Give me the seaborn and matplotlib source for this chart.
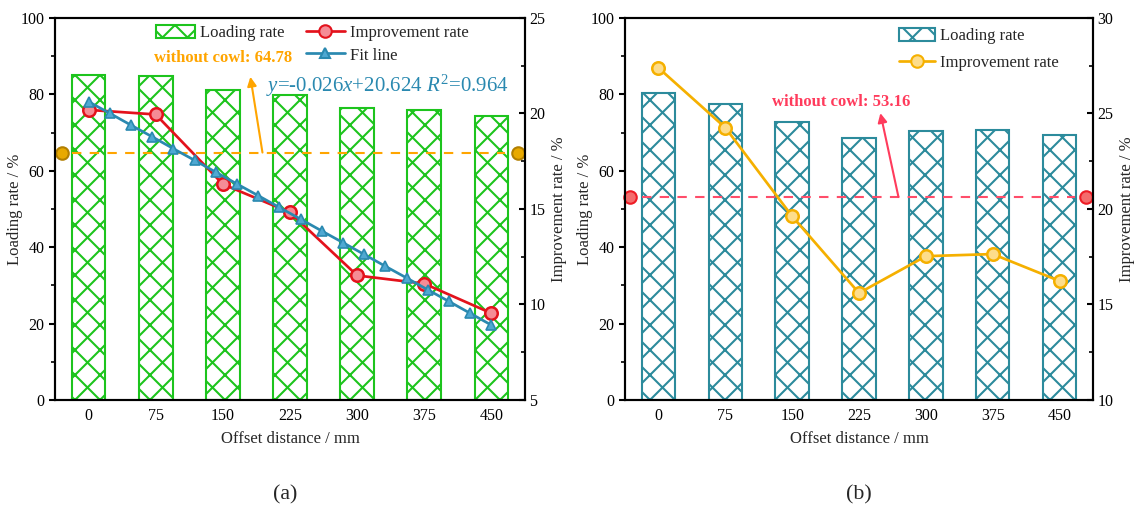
import numpy as np
import seaborn as sns
import matplotlib.pyplot as plt
from matplotlib.patches import Patch
from matplotlib.lines import Line2D
from matplotlib.ticker import MultipleLocator

# offset distance categories (mm)
offset = ['0', '75', '150', '225', '300', '375', '450']
step_mm = 75

# panel (a)
load_a = [85.0, 84.8, 81.1, 79.8, 76.5, 76.0, 74.4]
impr_a = [20.19, 19.95, 16.30, 14.82, 11.52, 11.09, 9.54]
fit_x = [0, 23.7, 47.4, 71.1, 94.7, 118.4, 142.1, 165.8, 189.5, 213.2,
         236.8, 260.5, 284.2, 307.9, 331.6, 355.3, 378.9, 402.6, 426.3, 450]
fit_y = [20.62, 20.01, 19.39, 18.78, 18.16, 17.55, 16.93, 16.31, 15.70, 15.08,
         14.47, 13.85, 13.24, 12.62, 12.00, 11.39, 10.77, 10.16, 9.54, 8.92]
base_a = 64.78

# panel (b)
load_b = [80.4, 77.5, 72.9, 68.7, 70.5, 70.7, 69.4]
impr_b = [27.39, 24.26, 19.62, 15.60, 17.53, 17.64, 16.23]
base_b = 53.16

sns.set_style('ticks')
plt.rcParams['font.family'] = ['Liberation Serif', 'DejaVu Serif']
plt.rcParams['mathtext.fontset'] = 'custom'
plt.rcParams['mathtext.rm'] = 'Liberation Serif'
plt.rcParams['mathtext.it'] = 'Liberation Serif:italic'
plt.rcParams['hatch.linewidth'] = 1.0
plt.rcParams['axes.edgecolor'] = 'black'
plt.rcParams['xtick.color'] = 'black'
plt.rcParams['ytick.color'] = 'black'

green = '#1DC41D'
teal = '#2C8B9C'

fig = plt.figure(figsize=(1147 / 150, 508 / 150), dpi=150)
axa = fig.add_axes([55 / 1147, 108 / 508, 470 / 1147, 382 / 508])
axb = fig.add_axes([625 / 1147, 108 / 508, 468 / 1147, 382 / 508])


def setup(ax, ax2, rlim, rmaj):
    ax.set_xlim(-0.5, 6.5)
    ax.set_ylim(0, 100)
    ax2.set_ylim(*rlim)
    ax.yaxis.set_major_locator(MultipleLocator(20))
    ax.yaxis.set_minor_locator(MultipleLocator(10))
    ax2.yaxis.set_major_locator(MultipleLocator(rmaj))
    ax2.yaxis.set_minor_locator(MultipleLocator(rmaj / 2))
    ax.tick_params(axis='y', which='major', direction='out', length=3, width=1, labelsize=7.7, pad=2)
    ax.tick_params(axis='y', which='minor', direction='out', length=2, width=0.8)
    ax2.tick_params(axis='y', which='major', direction='in', length=3, width=1, labelsize=7.7, pad=2)
    ax2.tick_params(axis='y', which='minor', direction='in', length=2, width=0.8)
    ax.tick_params(axis='x', length=0, labelsize=7.7, pad=4)
    for a in (ax, ax2):
        for s in a.spines.values():
            s.set_linewidth(1.0)
            s.set_visible(True)
    ax.set_xlabel('Offset distance / mm', fontsize=8, labelpad=3)
    ax.set_ylabel('Loading rate / %', fontsize=8)
    ax2.set_ylabel('Improvement rate / %', fontsize=8)
    ax.yaxis.set_label_coords(-0.068, 0.5)
    ax2.yaxis.set_label_coords(1.055, 0.5)


# ---------- (a) ----------
sns.barplot(x=offset, y=load_a, ax=axa, color='white', edgecolor=green,
            hatch='xx', linewidth=1.0, width=0.5, saturation=1)
axa2 = axa.twinx()
sns.lineplot(x=np.arange(len(offset)), y=impr_a, ax=axa2, color='#E3121C', lw=1.3,
             marker='o', markersize=6, markerfacecolor='#F58C96', markeredgecolor='#E3121C',
             markeredgewidth=1.2)
sns.lineplot(x=np.array(fit_x) / step_mm, y=fit_y, ax=axa2, color='#2A89B0', lw=1.3,
             marker='^', markersize=4.5, markerfacecolor='#4FA8D2', markeredgecolor='#2A89B0',
             markeredgewidth=0.8)
setup(axa, axa2, (5, 25), 5)

axa.plot([-0.25, 6.2], [base_a, base_a], color='#FFA500', lw=1.0, dashes=(4.5, 4))
axa.plot([-0.4, 6.4], [base_a, base_a], 'o', ls='none', ms=6, mfc='#E8A900', mec='#B27F00',
         mew=1.0, clip_on=False, zorder=5)
axa.text(0.97, 89.6, 'without cowl: 64.78', color='#FFA500', fontsize=8,
         fontweight='bold', ha='left', va='center')
axa.annotate('', xy=(2.41, 84.6), xytext=(2.59, base_a),
             arrowprops=dict(arrowstyle='-|>', color='#FFA500', lw=1.0, mutation_scale=9,
                             shrinkA=0, shrinkB=0))
axa.text(2.64, 82.2, r'$y$=-0.026$x$+20.624 $R^2$=0.964', color='#2A89B0',
         fontsize=10, ha='left', va='center')

handles_a = [Patch(facecolor='white', edgecolor=green, hatch='xx', lw=1.0),
             Line2D([], [], ls='none'),
             Line2D([], [], color='#E3121C', lw=1.3, marker='o', ms=6, mfc='#F58C96', mec='#E3121C'),
             Line2D([], [], color='#2A89B0', lw=1.3, marker='^', ms=4.5, mfc='#4FA8D2', mec='#2A89B0')]
labels_a = ['Loading rate', '', 'Improvement rate', 'Fit line']
axa2.legend(handles_a, labels_a, ncol=2, frameon=False, loc='upper left',
            bbox_to_anchor=(0.215, 0.982), borderaxespad=0, borderpad=0,
            handlelength=2.35, handleheight=0.85, handletextpad=0.3, columnspacing=1.25,
            labelspacing=0.35, fontsize=8)

# ---------- (b) ----------
sns.barplot(x=offset, y=load_b, ax=axb, color='white', edgecolor=teal,
            hatch='xx', linewidth=1.0, width=0.5, saturation=1)
axb2 = axb.twinx()
sns.lineplot(x=np.arange(len(offset)), y=impr_b, ax=axb2, color='#F5B000', lw=1.3,
             marker='o', markersize=6, markerfacecolor='#FDDD8C', markeredgecolor='#F5B000',
             markeredgewidth=1.2)
setup(axb, axb2, (10, 30), 5)

axb.plot([-0.25, 6.23], [base_b, base_b], color='#FF4D6A', lw=1.0, dashes=(4.5, 4))
axb.plot([-0.42, 6.4], [base_b, base_b], 'o', ls='none', ms=6, mfc='#F46C6C', mec='#EE1C25',
         mew=1.0, clip_on=False, zorder=5)
axb.text(1.70, 78.1, 'without cowl: 53.16', color='#FF3B5C', fontsize=8,
         fontweight='bold', ha='left', va='center')
axb.annotate('', xy=(3.32, 75.1), xytext=(3.59, base_b),
             arrowprops=dict(arrowstyle='-|>', color='#FF3B5C', lw=1.0, mutation_scale=9,
                             shrinkA=0, shrinkB=0))

handles_b = [Patch(facecolor='white', edgecolor=teal, hatch='xx', lw=1.0),
             Line2D([], [], color='#F5B000', lw=1.3, marker='o', ms=6, mfc='#FDDD8C', mec='#F5B000')]
axb2.legend(handles_b, ['Loading rate', 'Improvement rate'], frameon=False, loc='upper left',
            bbox_to_anchor=(0.585, 0.975), borderaxespad=0, borderpad=0,
            handlelength=2.2, handleheight=0.85, handletextpad=0.3, labelspacing=0.65,
            fontsize=8)

fig.text(285 / 1147, 1 - 495 / 508, '(a)', fontsize=10.5, ha='center', va='center')
fig.text(859 / 1147, 1 - 495 / 508, '(b)', fontsize=10.5, ha='center', va='center')

fig.savefig('out.png', dpi=150)
